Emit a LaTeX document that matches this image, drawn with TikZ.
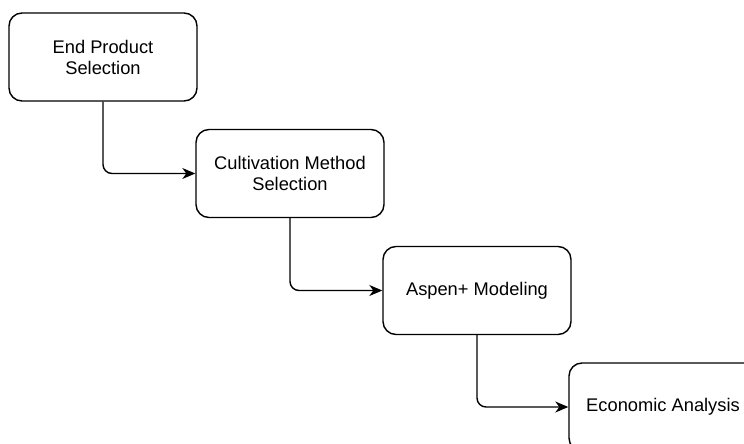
\documentclass[tikz,border=0pt]{standalone}
\usepackage{fontspec}
\setmainfont{Liberation Sans}
\usetikzlibrary{arrows.meta}
\begin{document}
\begin{tikzpicture}[x=1pt,y=-1pt,
  box/.style={draw=black, line width=1.4pt, rounded corners=13pt, fill=white,
    minimum width=188pt, minimum height=88pt, inner sep=0pt, align=center,
    font=\fontsize{18.3}{21}\selectfont},
  conn/.style={draw=black, line width=1.4pt, rounded corners=9pt,
    -{Stealth[length=13pt,width=11pt,inset=4pt]}}]
\useasboundingbox (0,0) rectangle (744,444);
\clip (0,0) rectangle (744,444);
\node[box] (a) at (103,57) {End Product\\Selection};
\node[box] (b) at (290,173.5) {Cultivation Method\\Selection};
\node[box] (c) at (477,290.5) {Aspen+ Modeling};
\node[box] (d) at (663,407) {Economic Analysis};
\draw[conn] (a.south) |- (b.west);
\draw[conn] (b.south) |- (c.west);
\draw[conn] (c.south) |- (d.west);
\end{tikzpicture}
\end{document}
